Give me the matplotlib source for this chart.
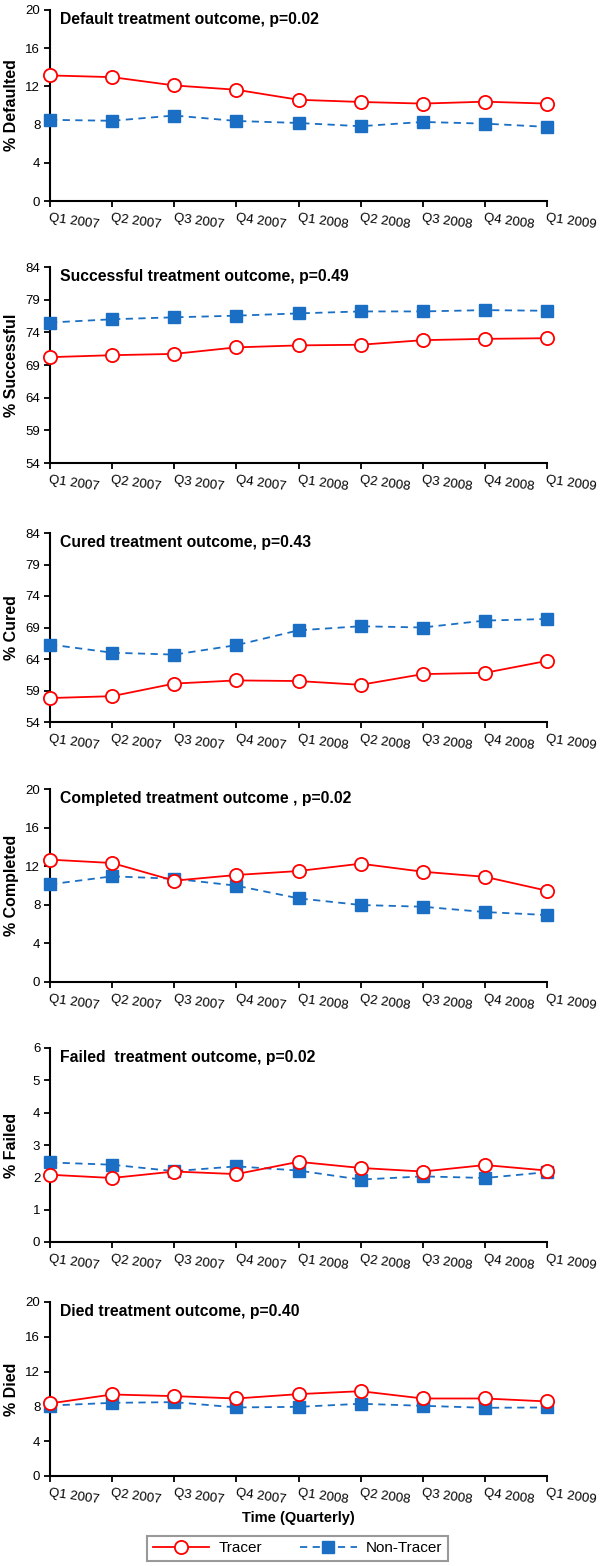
import numpy as np
import matplotlib
matplotlib.use("Agg")
import matplotlib.pyplot as plt

plt.rcParams['font.family'] = ['Liberation Sans', 'DejaVu Sans']

quarters = ["Q1 2007", "Q2 2007", "Q3 2007", "Q4 2007", "Q1 2008",
            "Q2 2008", "Q3 2008", "Q4 2008", "Q1 2009"]

# values (% of patients)
defaulted_tracer = [13.15, 12.97, 12.1, 11.65, 10.6, 10.37, 10.2, 10.4, 10.2]
defaulted_non = [8.5, 8.4, 8.95, 8.38, 8.17, 7.83, 8.28, 8.1, 7.76]

successful_tracer = [70.2, 70.5, 70.7, 71.7, 72.0, 72.1, 72.8, 73.0, 73.1]
successful_non = [75.5, 76.0, 76.3, 76.55, 76.9, 77.2, 77.2, 77.4, 77.3]

cured_tracer = [57.8, 58.1, 60.1, 60.6, 60.5, 59.9, 61.6, 61.8, 63.7]
cured_non = [66.3, 65.0, 64.7, 66.2, 68.55, 69.2, 69.0, 70.1, 70.35]

completed_tracer = [12.68, 12.33, 10.5, 11.09, 11.5, 12.26, 11.43, 10.9, 9.46]
completed_non = [10.12, 10.95, 10.7, 9.98, 8.67, 7.98, 7.8, 7.25, 6.94]

failed_tracer = [2.08, 1.98, 2.18, 2.10, 2.48, 2.29, 2.18, 2.38, 2.21]
failed_non = [2.46, 2.39, 2.19, 2.34, 2.21, 1.93, 2.03, 1.98, 2.16]

died_tracer = [8.34, 9.37, 9.18, 8.91, 9.41, 9.75, 8.91, 8.91, 8.57]
died_non = [8.1, 8.41, 8.49, 7.88, 7.95, 8.3, 8.07, 7.84, 7.88]

titles = ["Default treatment outcome, p=0.02",
          "Successful treatment outcome, p=0.49",
          "Cured treatment outcome, p=0.43",
          "Completed treatment outcome , p=0.02",
          "Failed  treatment outcome, p=0.02",
          "Died treatment outcome, p=0.40"]
ylabels = ["% Defaulted", "% Successful", "% Cured", "% Completed",
           "% Failed", "% Died"]
yticks = [np.arange(0, 21, 4), np.arange(54, 85, 5), np.arange(54, 85, 5),
          np.arange(0, 21, 4), np.arange(0, 7, 1), np.arange(0, 21, 4)]

tracer = [defaulted_tracer, successful_tracer, cured_tracer,
          completed_tracer, failed_tracer, died_tracer]
non_tracer = [defaulted_non, successful_non, cured_non,
              completed_non, failed_non, died_non]

W, H = 600, 1566
fig = plt.figure(figsize=(W / 100, H / 100), dpi=100)

# axes boxes in pixels: (top, bottom)
boxes = [(10, 201), (267, 463), (533, 722), (789, 982), (1048, 1242), (1302, 1476)]
left, right = 50, 547

red = "#ff0000"
blue = "#1a6fc4"
x = np.arange(len(quarters))

for i, (top, bot) in enumerate(boxes):
    ax = fig.add_axes([left / W, 1 - bot / H, (right - left) / W, (bot - top) / H])
    ax.plot(x, tracer[i], color=red, lw=1.3, marker='o', ms=9.5,
            mfc='white', mec=red, mew=1.3, clip_on=False, zorder=4,
            label="Tracer")
    ax.plot(x, non_tracer[i], color=blue, lw=1.3, ls=(0, (4, 3)),
            marker='s', ms=8, mfc=blue, mec=blue, clip_on=False, zorder=3,
            label="Non-Tracer")
    ax.set_xlim(0, 8)
    ax.set_ylim(yticks[i][0], yticks[i][-1])
    ax.set_yticks(yticks[i])
    ax.set_xticks(x)
    ax.set_xticklabels(quarters, rotation=-8, ha='left', va='top',
                       rotation_mode='anchor', fontsize=9.5)
    ax.tick_params(axis='y', labelsize=9.5, direction='out', length=4, width=1.3, pad=3)
    ax.tick_params(axis='x', direction='out', length=4, width=1.3, pad=4)
    for s in ['top', 'right']:
        ax.spines[s].set_visible(False)
    for s in ['left', 'bottom']:
        ax.spines[s].set_linewidth(1.5)
    ax.set_ylabel(ylabels[i], fontsize=11.5, fontweight='bold', va='center')
    ax.yaxis.set_label_coords(-38 / 497, 0.5)
    ax.text(0.02, 0.99, titles[i], transform=ax.transAxes, fontsize=11.3,
            fontweight='bold', ha='left', va='top')

fig.text(0.497, 1 - 1518 / H, "Time (Quarterly)", fontsize=10.5,
         fontweight='bold', ha='center', va='center')

handles, labels = ax.get_legend_handles_labels()
leg = fig.legend(handles, labels, loc='center', ncol=2,
                 bbox_to_anchor=(297.5 / W, 1 - 1548.5 / H),
                 fontsize=11, frameon=True, fancybox=False,
                 edgecolor='#808080', handlelength=3.7, columnspacing=2.5,
                 borderpad=0.35, handletextpad=0.6)
leg.get_frame().set_linewidth(1.5)

fig.savefig("out.png", dpi=100)
